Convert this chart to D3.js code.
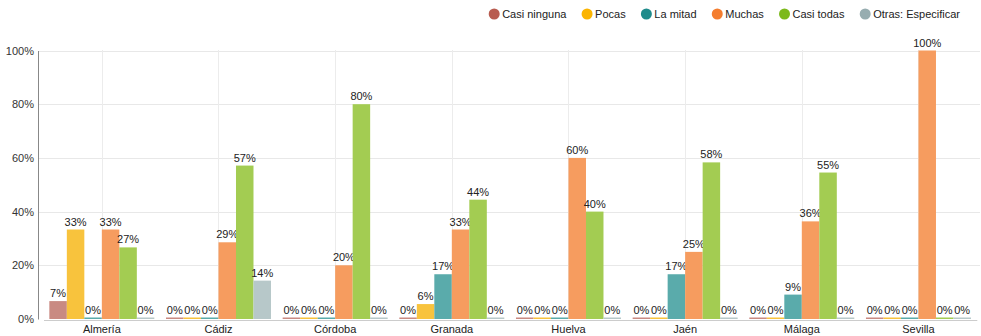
<!DOCTYPE html>
<html>
<head>
<meta charset="utf-8">
<script src="https://cdn.jsdelivr.net/npm/d3@7"></script>
<style>
  body { margin: 0; background: #fff; }
  svg { display: block; font-family: "Liberation Sans", Arial, sans-serif; }
</style>
</head>
<body>
<div id="chart"></div>
<script>
// data
const provinces = ["Almería", "Cádiz", "Córdoba", "Granada", "Huelva", "Jaén", "Málaga", "Sevilla"];
const seriesNames = ["Casi ninguna", "Pocas", "La mitad", "Muchas", "Casi todas", "Otras: Especificar"];
const casiNinguna = [6.67, 0, 0, 0, 0, 0, 0, 0];
const pocas       = [33.33, 0, 0, 5.56, 0, 0, 0, 0];
const laMitad     = [0, 0, 0, 16.67, 0, 16.67, 9.09, 0];
const muchas      = [33.33, 28.57, 20, 33.33, 60, 25, 36.36, 100];
const casiTodas   = [26.67, 57.14, 80, 44.44, 40, 58.33, 54.55, 0];
const otras       = [0, 14.29, 0, 0, 0, 0, 0, 0];
const yTicks = [0, 20, 40, 60, 80, 100];

const seriesValues = [casiNinguna, pocas, laMitad, muchas, casiTodas, otras];
const legendColors = ["#b85c50", "#fbb400", "#1f8b8b", "#f47d2f", "#7cb91c", "#97adb0"];
const barColors = ["#c98a82", "#f8c33d", "#5aabab", "#f69c5f", "#a3cc52", "#b7c8c9"];

const width = 981, height = 336;
const margin = {top: 50, right: 1, bottom: 17, left: 38};

const svg = d3.select("#chart").append("svg")
    .attr("width", width)
    .attr("height", height);

//group positions: bands a bit to the right of the y axis
const x0 = d3.scaleBand()
    .domain(provinces)
    .range([43.5, 976.8])
    .paddingInner(0.1)
    .paddingOuter(0.05);

const x1 = d3.scaleBand()
    .domain(seriesNames)
    .range([0, x0.bandwidth()]);

const y = d3.scaleLinear()
    .domain([0, 100])
    .range([height - margin.bottom, margin.top + 0.5]);

// horizontal grid
svg.append("g")
  .selectAll("line")
  .data(yTicks.slice(1))
  .enter().append("line")
    .attr("x1", margin.left)
    .attr("x2", width - margin.right)
    .attr("y1", d => Math.round(y(d)) + 0.5)
    .attr("y2", d => Math.round(y(d)) + 0.5)
    .attr("stroke", "#e8e8e8");

// vertical grid at category centres
svg.append("g")
  .selectAll("line")
  .data(provinces)
  .enter().append("line")
    .attr("x1", d => Math.round(x0(d) + x0.bandwidth() / 2) + 0.5)
    .attr("x2", d => Math.round(x0(d) + x0.bandwidth() / 2) + 0.5)
    .attr("y1", margin.top)
    .attr("y2", height - margin.bottom)
    .attr("stroke", "#ececec");

// y axis labels
const yAxis = svg.append("g")
    .attr("transform", "translate(" + margin.left + ",0)")
    .call(d3.axisLeft(y).tickValues(yTicks).tickSize(0).tickPadding(4).tickFormat(d => d + "%"));
yAxis.select(".domain").attr("stroke", "#888");
yAxis.selectAll("text").attr("font-size", 11).attr("fill", "#333")
    .attr("font-family", "Liberation Sans, Arial, sans-serif");

// bars
const groups = svg.append("g")
  .selectAll("g")
  .data(provinces)
  .enter().append("g")
    .attr("transform", d => "translate(" + x0(d) + ",0)");

const bars = groups.selectAll("g.bar")
    .data((p, i) => seriesNames.map((s, j) => ({series: s, idx: j, value: seriesValues[j][i]})))
  .enter().append("g")
    .attr("class", "bar");

bars.append("rect")
    .attr("x", d => x1(d.series))
    .attr("width", x1.bandwidth())
    .attr("y", d => Math.min(y(d.value), y(0) - 1.5))
    .attr("height", d => Math.max(y(0) - y(d.value), 1.5))
    .attr("fill", d => barColors[d.idx]);

bars.append("text")
    .attr("x", d => x1(d.series) + x1.bandwidth() / 2)
    .attr("y", d => Math.min(y(d.value), y(0) - 1.5) - 4)
    .attr("text-anchor", "middle")
    .attr("font-size", 11)
    .attr("fill", "#222")
    .text(d => Math.round(d.value) + "%");

// x axis
const xAxis = svg.append("g")
    .attr("transform", "translate(0," + (y(0) + 1) + ")")
    .call(d3.axisBottom(x0).tickSize(0).tickPadding(5));
xAxis.select(".domain").attr("stroke", "#ccc");
xAxis.selectAll("text").attr("font-size", 11).attr("fill", "#222")
    .attr("font-family", "Liberation Sans, Arial, sans-serif");

// legend, laid out from measured text widths and right aligned
const legendRight = 960, legendTextOffset = 8, legendGap = 20.7;
const legend = svg.append("g")
  .selectAll("g")
  .data(seriesNames)
  .enter().append("g");

legend.append("circle")
    .attr("r", 5.5)
    .attr("fill", (d, i) => legendColors[i]);

legend.append("text")
    .attr("x", legendTextOffset)
    .attr("dy", "0.35em")
    .attr("font-size", 11)
    .attr("fill", "#222")
    .text(d => d);

let widths = [];
legend.select("text").each(function() { widths.push(this.getComputedTextLength()); });
let total = d3.sum(widths) + widths.length * legendTextOffset + (widths.length - 1) * legendGap;
let cx = legendRight - total;
legend.attr("transform", function(d, i) {
  let pos = cx;
  cx += legendTextOffset + widths[i] + legendGap;
  return "translate(" + pos + ",14)";
});
</script>
</body>
</html>
